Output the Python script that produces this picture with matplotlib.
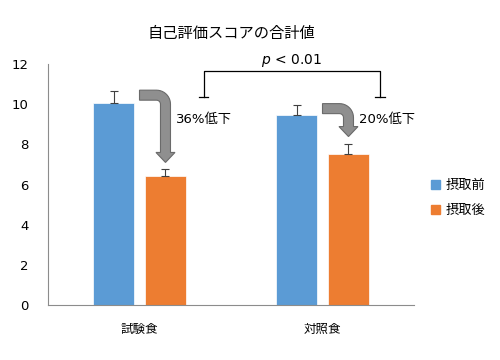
import numpy as np
import matplotlib.pyplot as plt
from matplotlib.patches import Patch, Polygon
from matplotlib.transforms import IdentityTransform

plt.rcParams["font.family"] = ["DejaVu Sans", "Noto Sans CJK JP"]

# --- data --- #
categories = ["試験食", "対照食"]
series = ["摂取前", "摂取後"]
before = [10.05, 9.45]
after = [6.43, 7.53]
before_err = [0.60, 0.53]
after_err = [0.32, 0.51]
drop_labels = ["36%低下", "20%低下"]
title = "自己評価スコアの合計値"
p_text = "$p$ < 0.01"

blue = "#5B9BD5"
orange = "#ED7D31"
jp = ["Noto Sans CJK JP", "DejaVu Sans"]

fig = plt.figure(figsize=(5, 3.6), dpi=100)
ax = fig.add_axes([0.096, 0.153, 0.732, 0.669])

x = np.arange(len(categories))
off = 0.142
w = 0.224

err_kw = dict(ecolor="#404040", elinewidth=0.8, capsize=3, capthick=0.8)
ax.bar(x - off, before, w, color=blue, edgecolor="white", linewidth=0.5,
       yerr=[np.zeros(len(before)), before_err], error_kw=err_kw, label=series[0])
ax.bar(x + off, after, w, color=orange, edgecolor="white", linewidth=0.5,
       yerr=[np.zeros(len(after)), after_err], error_kw=err_kw, label=series[1])

ax.set_xlim(-0.5, 1.5)
ax.set_ylim(0, 12)
ax.set_yticks(np.arange(0, 13, 2))
ax.set_xticks(x)
ax.set_xticklabels(categories, fontsize=9, family=jp)
ax.tick_params(axis="y", length=0, pad=14, labelsize=9.5)
ax.tick_params(axis="x", length=0, pad=13)
for s in ["top", "right"]:
    ax.spines[s].set_visible(False)
for s in ["left", "bottom"]:
    ax.spines[s].set_color("#8c8c8c")
    ax.spines[s].set_linewidth(0.8)

ax.set_title(title, fontsize=11, pad=19, family=jp)


# --- curved arrows (built in pixel space) --- #
def bent_arrow(x0, yt, xc, ytip, t=10, r=4, hw=19, hl=10):
    R = t + r
    xl, xr = xc - t / 2, xc + t / 2
    yb = yt - t
    cx, cy = xr - R, yt - R
    pts = [(x0, yt)]
    for a in np.linspace(np.pi / 2, 0, 12):
        pts.append((cx + R * np.cos(a), cy + R * np.sin(a)))
    yh = ytip + hl
    pts += [(xr, yh), (xc + hw / 2, yh), (xc, ytip), (xc - hw / 2, yh), (xl, yh)]
    for a in np.linspace(0, np.pi / 2, 8):
        pts.append((cx + r * np.cos(a), cy + r * np.sin(a)))
    pts.append((x0, yb))
    return pts


for i in range(len(categories)):
    sx, sy = ax.transData.transform((x[i], before[i] + before_err[i]))
    ex, ey = ax.transData.transform((x[i] + off, after[i] + after_err[i]))
    pts = bent_arrow(sx, sy + 1, ex, ey + 7)
    ax.add_patch(Polygon(pts, closed=True, transform=IdentityTransform(),
                         facecolor="#8f8f8f", edgecolor="#6a6a6a",
                         linewidth=0.8, clip_on=False, zorder=4))
    ax.text(x[i] + off + 0.055, 9.25, drop_labels[i], fontsize=9.5,
            va="center", ha="left")

# --- significance bracket --- #
bx = [0.352, 1.314]
ax.plot([bx[0], bx[0], bx[1], bx[1]], [10.35, 11.65, 11.65, 10.35],
        color="black", linewidth=0.9, clip_on=False)
for b in bx:
    ax.plot([b - 0.025, b + 0.025], [10.35, 10.35], color="black",
            linewidth=0.9, clip_on=False)
ax.text(0.833, 12.2, p_text, fontsize=10, ha="center", va="center")

handles = [Patch(color=blue, label=series[0]), Patch(color=orange, label=series[1])]
fig.legend(handles=handles, loc="center left", bbox_to_anchor=(0.838, 0.45),
           frameon=False, prop={"family": jp, "size": 9.5},
           handlelength=0.7, handleheight=0.7,
           handletextpad=0.4, labelspacing=0.9)

fig.savefig("out.png", dpi=100)
